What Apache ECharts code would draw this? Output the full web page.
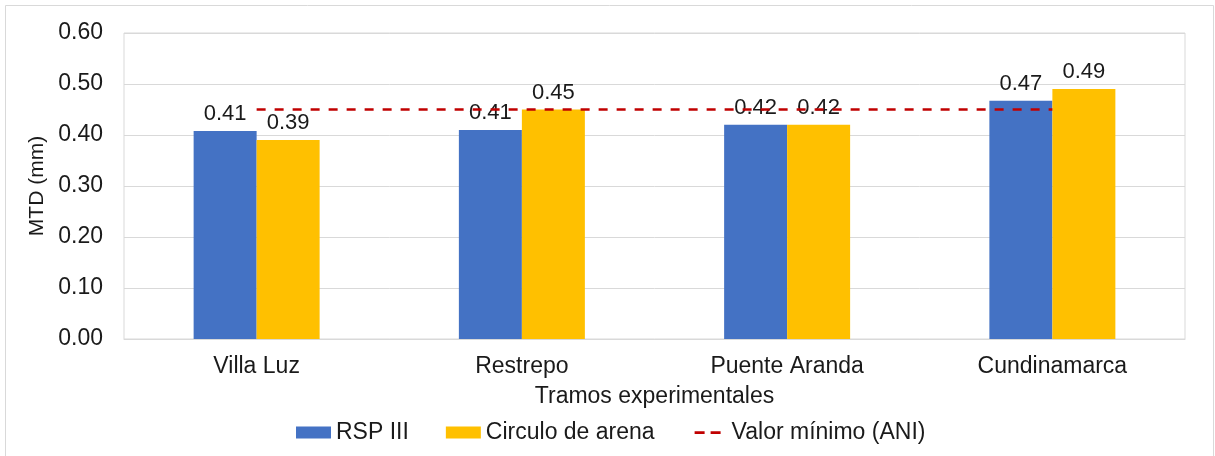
<!DOCTYPE html>
<html>
<head>
<meta charset="utf-8">
<script src="https://cdn.jsdelivr.net/npm/echarts@6/dist/echarts.min.js"></script>
<style>
  html, body { margin: 0; padding: 0; background: #ffffff; }
  #chart { width: 1215px; height: 456px; }
</style>
</head>
<body>
<div id="chart"></div>
<script>
// Tramos experimentales y su macrotextura (MTD, mm)
const categories = ['Villa Luz', 'Restrepo', 'Puente Aranda', 'Cundinamarca'];
const rspValues = [0.408, 0.41, 0.42, 0.467];
const circuloValues = [0.39, 0.45, 0.42, 0.49];
const minimoANI = [0.45, 0.45, 0.45, 0.45];
const yTicks = { min: 0, max: 0.6, interval: 0.1 };

const FONT = '"Liberation Sans", Arial, sans-serif';
const TEXT = '#1a1a1a';
const RED = '#c00000';

const chart = echarts.init(document.getElementById('chart'), null, { renderer: 'canvas' });

const barLabel = {
  show: true,
  position: 'top',
  distance: 6,
  color: TEXT,
  fontFamily: FONT,
  fontSize: 22,
  formatter: p => p.value.toFixed(2)
};

// two short dashes for the legend entry of the dashed reference line
const dashIcon = 'path://M0,0M35,12M3,4.8h10v2.6h-10zM19,4.8h10v2.6h-10z';

chart.setOption({
  animation: false,
  backgroundColor: '#ffffff',
  textStyle: { fontFamily: FONT, color: TEXT },
  graphic: [{
    type: 'rect',
    shape: { x: 5.5, y: 5.5, width: 1208, height: 460 },
    style: { fill: 'none', stroke: '#d9d9d9', lineWidth: 1 },
    silent: true,
    z: -10
  }],
  grid: {
    left: 124, right: 30, top: 33, bottom: 117,
    show: true, borderColor: '#d9d9d9', borderWidth: 1
  },
  legend: {
    top: 416,
    left: 291,
    itemWidth: 35,
    itemHeight: 12,
    itemGap: 37,
    textStyle: { fontFamily: FONT, fontSize: 23, color: TEXT },
    data: [
      { name: 'RSP III', icon: 'rect' },
      { name: 'Circulo de arena', icon: 'rect' },
      { name: 'Valor mínimo (ANI)', icon: dashIcon, itemStyle: { color: RED } }
    ]
  },
  xAxis: {
    type: 'category',
    data: categories,
    name: 'Tramos experimentales',
    nameLocation: 'middle',
    nameGap: 46,
    nameTextStyle: { fontFamily: FONT, fontSize: 23, color: TEXT },
    axisLine: { lineStyle: { color: '#d9d9d9' } },
    axisTick: { show: false },
    axisLabel: { fontFamily: FONT, fontSize: 23, color: TEXT, margin: 16 }
  },
  yAxis: {
    type: 'value',
    min: yTicks.min,
    max: yTicks.max,
    interval: yTicks.interval,
    name: 'MTD (mm)',
    nameLocation: 'middle',
    nameGap: 75,
    nameTextStyle: { fontFamily: FONT, fontSize: 21, color: TEXT },
    axisLine: { show: false },
    axisTick: { show: false },
    splitLine: { lineStyle: { color: '#d9d9d9', width: 1 } },
    axisLabel: { fontFamily: FONT, fontSize: 23, color: TEXT, margin: 21, formatter: v => v.toFixed(2) }
  },
  series: [
    {
      name: 'RSP III',
      type: 'bar',
      data: rspValues,
      barGap: '0%',
      barCategoryGap: '52.5%',
      itemStyle: { color: '#4472c4' },
      label: barLabel,
      z: 2
    },
    {
      name: 'Circulo de arena',
      type: 'bar',
      data: circuloValues,
      itemStyle: { color: '#ffc000' },
      label: barLabel,
      z: 2
    },
    {
      name: 'Valor mínimo (ANI)',
      type: 'line',
      data: minimoANI,
      symbol: 'none',
      lineStyle: { color: RED, width: 2.5, type: [9, 9] },
      itemStyle: { color: RED },
      z: 5
    }
  ]
});
</script>
</body>
</html>
